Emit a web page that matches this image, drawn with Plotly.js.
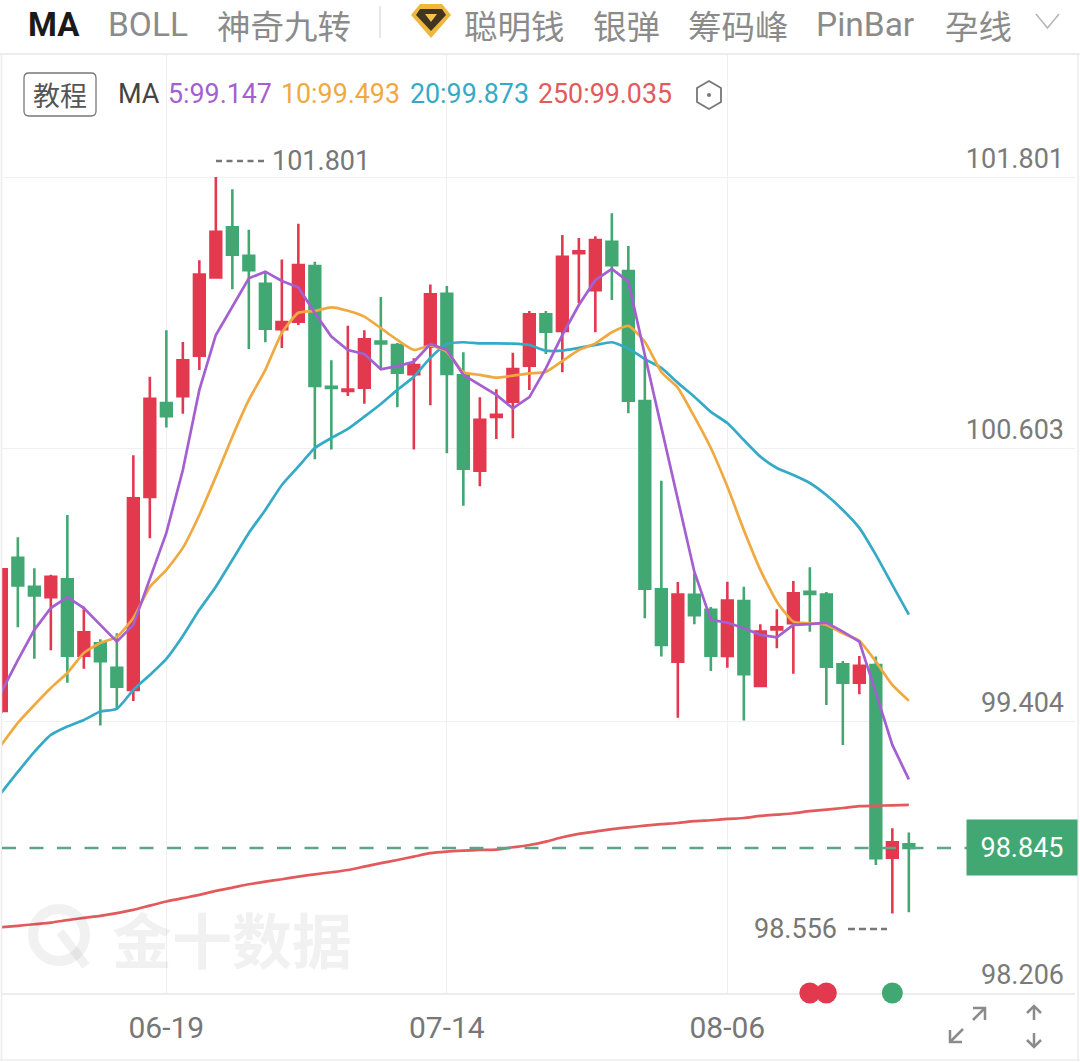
<!DOCTYPE html>
<html>
<head>
<meta charset="utf-8">
<script src="https://cdn.plot.ly/plotly-3.0.1.min.js"></script>
<style>html,body{margin:0;padding:0;background:#fff;overflow:hidden}#chart{width:1080px;height:1062px}</style>
</head>
<body>
<div id="chart"></div>
<script>
const dates = ["06-05","06-06","06-09","06-10","06-11","06-12","06-13","06-16","06-17","06-18","06-19","06-20","06-23","06-24","06-25","06-26","06-27","06-30","07-01","07-02","07-03","07-04","07-07","07-08","07-09","07-10","07-11","07-14","07-15","07-16","07-17","07-18","07-21","07-22","07-23","07-24","07-25","07-28","07-29","07-30","07-31","08-01","08-04","08-05","08-06","08-07","08-08","08-11","08-12","08-13","08-14","08-15","08-18","08-19","08-20","08-21"];
const open = [99.449,100.123,99.996,99.950,100.029,99.692,99.747,99.639,99.541,100.391,100.805,100.835,101.014,101.359,101.579,101.454,101.331,101.131,101.164,101.409,100.877,100.858,100.873,101.076,101.061,100.932,101.053,101.286,100.927,100.507,100.744,100.811,100.970,101.196,101.123,101.465,101.302,101.515,101.387,100.814,99.985,99.666,99.960,99.894,99.691,99.933,99.559,99.808,99.835,99.973,99.961,99.654,99.573,99.651,98.802,98.861];
const close = [100.073,100.002,99.957,100.040,99.692,99.795,99.668,99.556,100.386,100.824,100.747,100.994,101.371,101.560,101.459,101.390,101.133,101.162,101.413,100.880,100.872,100.865,101.086,101.068,100.939,100.972,101.284,100.933,100.516,100.731,100.753,100.955,101.196,101.120,101.449,101.474,101.523,101.412,100.816,99.987,99.739,99.961,99.870,99.692,99.935,99.610,99.798,99.817,99.967,99.964,99.644,99.573,99.648,98.800,98.870,98.845];
const high = [100.074,100.214,100.077,100.049,100.312,99.908,99.765,99.791,100.575,100.921,101.126,101.074,101.434,101.801,101.747,101.569,101.384,101.438,101.595,101.428,100.994,101.146,101.126,101.272,101.070,101.002,101.327,101.321,101.029,100.831,100.866,101.027,101.211,101.211,101.546,101.532,101.540,101.641,101.497,101.009,100.463,100.017,100.055,99.907,100.018,99.996,99.831,99.897,100.021,100.082,99.973,99.669,99.691,99.688,98.932,98.913];
const low = [99.440,99.817,99.679,99.716,99.573,99.635,99.384,99.456,99.493,100.209,100.697,100.758,100.951,101.356,101.306,101.043,101.073,101.048,101.149,100.557,100.601,100.836,100.802,100.958,100.787,100.600,100.795,100.584,100.353,100.439,100.647,100.650,100.863,101.021,100.941,101.246,101.117,101.259,100.760,99.857,99.688,99.419,99.831,99.625,99.639,99.406,99.554,99.725,99.612,99.798,99.475,99.299,99.522,98.770,98.556,98.562];
const ma5 = [99.532,99.673,99.806,99.902,99.950,99.902,99.828,99.754,99.828,100.026,100.233,100.510,100.863,101.105,101.230,101.355,101.384,101.343,101.315,101.202,101.098,101.039,101.021,100.954,100.968,100.987,101.065,101.039,100.929,100.885,100.841,100.782,100.831,100.958,101.105,101.237,101.347,101.396,101.340,101.017,100.700,100.378,100.062,99.850,99.838,99.813,99.784,99.773,99.828,99.831,99.838,99.798,99.754,99.528,99.299,99.147];
const ma10 = [99.299,99.396,99.475,99.550,99.616,99.704,99.748,99.775,99.858,99.995,100.070,100.167,100.312,100.481,100.657,100.819,100.951,101.114,101.203,101.211,101.227,101.212,101.186,101.135,101.083,101.039,101.058,101.031,100.941,100.929,100.917,100.926,100.936,100.942,100.990,101.039,101.068,101.117,101.145,101.075,100.942,100.872,100.745,100.607,100.437,100.246,100.070,99.930,99.842,99.835,99.828,99.791,99.758,99.666,99.563,99.493];
const ma20 = [99.088,99.180,99.268,99.343,99.380,99.409,99.446,99.458,99.541,99.607,99.678,99.779,99.894,99.996,100.114,100.233,100.334,100.444,100.525,100.607,100.651,100.691,100.745,100.801,100.863,100.921,101.004,101.065,101.073,101.068,101.068,101.067,101.061,101.036,101.036,101.048,101.061,101.073,101.046,100.999,100.960,100.894,100.833,100.766,100.717,100.642,100.569,100.519,100.488,100.453,100.400,100.334,100.255,100.136,100.004,99.873];
const ma250 = [98.496,98.502,98.509,98.516,98.527,98.537,98.546,98.558,98.572,98.591,98.609,98.624,98.638,98.656,98.670,98.685,98.697,98.707,98.719,98.729,98.738,98.748,98.763,98.778,98.792,98.807,98.822,98.829,98.833,98.836,98.838,98.848,98.858,98.873,98.892,98.907,98.917,98.928,98.936,98.943,98.950,98.955,98.963,98.967,98.973,98.977,98.986,98.992,98.998,99.007,99.014,99.021,99.029,99.031,99.033,99.035];
const priceTicks = [98.206,99.404,100.603,101.801];
const priceLabels = ["98.206","99.404","100.603","101.801"];
const dateTicks = ["06-19","07-14","08-06"];
const lastPrice = 98.845;
const signalDatesUp = ["08-13","08-14"];
const signalDatesDown = ["08-20"];
const tabs = ["MA","BOLL","神奇九转","聪明钱","银弹","筹码峰","PinBar","孕线"];
const legendItems = ["5:99.147","10:99.493","20:99.873","250:99.035"];

const W = 1080, H = 1062;
const RED = "#e2394f", GREEN = "#41a873";
const PURPLE = "#a45fd0", ORANGE = "#f0a941", BLUE = "#35aac6", MARED = "#e25a5c";
const NUM = 'Roboto,sans-serif';
const CJK = '"Noto Sans CJK SC",sans-serif';
const fx = x => x / W, fy = y => 1 - y / H;
const p = pts => pts.map((q, i) => (i ? "L" : "M") + fx(q[0]) + "," + fy(q[1])).join(" ");
const pz = pts => p(pts) + " Z";

function ann(text, x, y, size, color, anchor, font, extra) {
  return Object.assign({ text, x: fx(x), y: fy(y), xref: "paper", yref: "paper", xanchor: anchor || "left", yanchor: "middle",
    showarrow: false, font: { size, color, family: font || NUM } }, extra || {});
}
function shapeLine(pts, color, width, extra) {
  return Object.assign({ type: "path", xref: "paper", yref: "paper", path: p(pts), line: { color, width } }, extra || {});
}
function fillPath(pts, color) {
  return { type: "path", xref: "paper", yref: "paper", path: pz(pts), fillcolor: color, line: { width: 0 } };
}

const traces = [
  { type: "candlestick", x: dates, open, high, low, close, hoverinfo: "skip", whiskerwidth: 0,
    increasing: { line: { color: RED, width: 2.6 }, fillcolor: RED },
    decreasing: { line: { color: GREEN, width: 2.6 }, fillcolor: GREEN }, showlegend: false },
  { type: "scatter", mode: "lines", x: dates, y: ma250, line: { color: MARED, width: 2.7, shape: "spline", smoothing: 0.6 }, hoverinfo: "skip", showlegend: false },
  { type: "scatter", mode: "lines", x: dates, y: ma20, line: { color: BLUE, width: 2.7, shape: "spline", smoothing: 0.5 }, hoverinfo: "skip", showlegend: false },
  { type: "scatter", mode: "lines", x: dates, y: ma10, line: { color: ORANGE, width: 2.7, shape: "spline", smoothing: 0.5 }, hoverinfo: "skip", showlegend: false },
  { type: "scatter", mode: "lines", x: dates, y: ma5, line: { color: PURPLE, width: 2.7 }, hoverinfo: "skip", showlegend: false },
  { type: "scatter", mode: "markers", x: signalDatesUp, y: signalDatesUp.map(() => priceTicks[0]), cliponaxis: false,
    marker: { size: 21, color: RED }, hoverinfo: "skip", showlegend: false },
  { type: "scatter", mode: "markers", x: signalDatesDown, y: signalDatesDown.map(() => priceTicks[0]), cliponaxis: false,
    marker: { size: 21, color: GREEN }, hoverinfo: "skip", showlegend: false }
];

const GREY = "#8b8b8b";
const annotations = [
  ann(tabs[0], 26, 24, 33, "#1a1a1a", "left", NUM, { text: "<b>MA</b>" }),
  ann(tabs[1], 106, 24, 33.5, GREY, "left", NUM),
  ann(tabs[2], 215, 24, 33.5, GREY, "left", CJK),
  ann(tabs[3], 462, 24, 33.5, GREY, "left", CJK),
  ann(tabs[4], 591, 24, 33.5, GREY, "left", CJK),
  ann(tabs[5], 686, 24, 33.5, GREY, "left", CJK),
  ann(tabs[6], 814, 24, 33.5, GREY, "left", NUM),
  ann(tabs[7], 943, 24, 33.5, GREY, "left", CJK),
  ann("教程", 60, 94, 27, "#555", "center", CJK),
  ann("MA", 116, 94, 27, "#444", "left", NUM),
  ann(legendItems[0], 166, 94, 26.8, PURPLE, "left", NUM),
  ann(legendItems[1], 279, 94, 26.8, ORANGE, "left", NUM),
  ann(legendItems[2], 408, 94, 26.8, BLUE, "left", NUM),
  ann(legendItems[3], 536, 94, 26.8, MARED, "left", NUM),
  ann(priceLabels[3], 270, 161, 27, "#777", "left", NUM),
  ann("98.556", 752, 929, 27, "#777", "left", NUM),
  ann("金十数据", 232, 937, 60, "rgba(60,60,60,0.07)", "center", CJK, { text: "<b>金十数据</b>" }),
  { text: "98.845", x: fx(1022), xref: "paper", y: lastPrice, yref: "y", xanchor: "center", yanchor: "middle", showarrow: false,
    font: { size: 27, color: "#fff", family: NUM }, bgcolor: GREEN, width: 108, height: 53 }
];

const shapes = [
  shapeLine([[0, 54], [W, 54]], "#e6e6e6", 1.5),
  shapeLine([[1.5, 54], [1.5, 1060]], "#ececec", 1.5),
  shapeLine([[1078, 54], [1078, 1060]], "#ececec", 1.5),
  shapeLine([[0, 1060], [W, 1060]], "#ececec", 1.5),
  shapeLine([[380, 6], [380, 38]], "#dedede", 1.5),
  fillPath([[420, 4], [442, 4], [451, 15], [431, 38], [411, 15]], "#eeb73d"),
  fillPath([[420, 9], [442, 9], [446, 15], [431, 31], [416, 15]], "#40361f"),
  fillPath([[425, 14], [437, 14], [431, 22]], "#f2c24d"),
  shapeLine([[1036, 14], [1047.5, 28], [1059, 14]], "#b5b5b5", 1.5),
  { type: "path", xref: "paper", yref: "paper",
    path: `M${fx(29)},${fy(73)} L${fx(91)},${fy(73)} Q${fx(96)},${fy(73)} ${fx(96)},${fy(78)} L${fx(96)},${fy(111)} Q${fx(96)},${fy(116)} ${fx(91)},${fy(116)} L${fx(29)},${fy(116)} Q${fx(24)},${fy(116)} ${fx(24)},${fy(111)} L${fx(24)},${fy(78)} Q${fx(24)},${fy(73)} ${fx(29)},${fy(73)} Z`,
    line: { color: "#777", width: 1.3 } },
  { type: "path", xref: "paper", yref: "paper", path: pz([[709, 81], [721, 88], [721, 102], [709, 109], [697, 102], [697, 88]]), line: { color: "#777", width: 1.8 } },
  { type: "circle", xref: "paper", yref: "paper", x0: fx(707), x1: fx(711), y0: fy(93), y1: fy(97), fillcolor: "#777", line: { width: 0 } },
  { type: "path", xref: "paper", yref: "paper", path: p([[216, 161], [266, 161]]), line: { color: "#777", width: 2.5, dash: "6px,4.5px" } },
  { type: "path", xref: "paper", yref: "paper", path: p([[848, 929], [887, 929]]), line: { color: "#777", width: 2.5, dash: "7px,4px" } },
  { type: "line", xref: "paper", yref: "y", x0: fx(2), x1: fx(967), y0: lastPrice, y1: lastPrice, line: { color: "#5ea588", width: 2.4, dash: "14px,13.5px" } },
  { type: "circle", xref: "paper", yref: "paper", x0: fx(33), x1: fx(85), y0: fy(909), y1: fy(961), line: { color: "rgba(60,60,60,0.07)", width: 10 }, layer: "above" },
  { type: "path", xref: "paper", yref: "paper", path: p([[60, 932], [86, 966]]), line: { color: "rgba(60,60,60,0.07)", width: 9 } },
  shapeLine([[950, 1042], [963, 1029]], GREY, 2.5),
  shapeLine([[950, 1030], [950, 1042], [962, 1042]], GREY, 2.5),
  shapeLine([[973, 1020], [985, 1008]], GREY, 2.5),
  shapeLine([[973, 1008], [985, 1008], [985, 1020]], GREY, 2.5),
  shapeLine([[1034, 1006], [1034, 1020]], GREY, 2.5),
  shapeLine([[1027, 1013], [1034, 1006], [1041, 1013]], GREY, 2.5),
  shapeLine([[1034, 1033], [1034, 1047]], GREY, 2.5),
  shapeLine([[1027, 1040], [1034, 1047], [1041, 1040]], GREY, 2.5)
];

const layout = {
  width: W, height: H, autosize: false,
  margin: { l: 0, r: 0, t: 0, b: 0, pad: 0 },
  paper_bgcolor: "#fff", plot_bgcolor: "#fff", showlegend: false, boxgap: 0.35, boxgroupgap: 0,
  xaxis: { domain: [fx(2), fx(1075)], type: "category", categoryorder: "array", categoryarray: dates,
    range: [0.04, 65.07], rangeslider: { visible: false }, fixedrange: true,
    tickmode: "array", tickvals: dateTicks, ticktext: dateTicks, layer: "below traces",
    showgrid: true, gridcolor: "#f0f0f0", gridwidth: 1, showline: true, linecolor: "#ececec", linewidth: 1.5,
    ticks: "outside", ticklen: 7, tickcolor: "rgba(0,0,0,0)", tickfont: { size: 30, color: "#777", family: NUM }, zeroline: false },
  yaxis: { domain: [fy(993), fy(55)], range: [98.206, 102.3385], side: "right", fixedrange: true, anchor: "x",
    tickmode: "array", tickvals: priceTicks, ticktext: priceLabels, layer: "below traces",
    ticklabelposition: "inside top", ticks: "", ticklabelstandoff: 8,
    tickfont: { size: 27, color: "#7a7a7a", family: NUM }, showgrid: true, gridcolor: "#f0f0f0", gridwidth: 1, zeroline: false, showline: false },
  annotations, shapes
};

Plotly.newPlot("chart", traces, layout, { staticPlot: true, displayModeBar: false });
</script>
</body>
</html>
